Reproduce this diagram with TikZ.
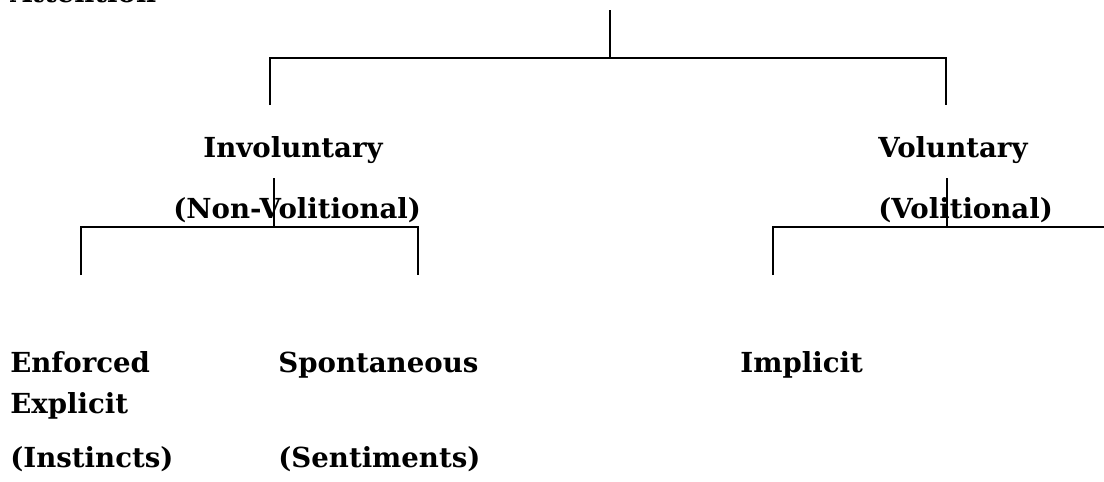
\documentclass[tikz,border=0pt]{standalone}
\usepackage{fontspec}
\setmainfont{DejaVu Serif}
\usepackage{tikz}
\tikzstyle{LabelTree}=[anchor=base west,inner sep=0pt,font=\fontsize{13.8}{17}\selectfont\bfseries]
\tikzstyle{EdgeTree}=[black,line width=0.75pt]

\begin{document}
\begin{tikzpicture}[x=0.5pt,y=-0.5pt]
        \clip(0,0)rectangle(1104,482);
        \node[LabelTree](att)at(10,2.5){Attention};
        \node[LabelTree](inv)at(203,157){Involuntary};
        \node[LabelTree](invb)at(173,218){(Non-Volitional)};
        \node[LabelTree](vol)at(878,157){Voluntary};
        \node[LabelTree](volb)at(878,218){(Volitional)};
        \node[LabelTree](enf)at(10,372){Enforced};
        \node[LabelTree](expl)at(10,413){Explicit};
        \node[LabelTree](inst)at(10,467){(Instincts)};
        \node[LabelTree](spon)at(278,372){Spontaneous};
        \node[LabelTree](sent)at(278,467){(Sentiments)};
        \node[LabelTree](impl)at(740,372){Implicit};
        % first split
        \coordinate(root)at(610,10);
        \coordinate(split)at(610,58);
        \coordinate(invTop)at(270,58);
        \coordinate(invEnd)at(270,105);
        \coordinate(volTop)at(946,58);
        \coordinate(volEnd)at(946,105);
        \draw[EdgeTree](root)--(split);
        \draw[EdgeTree](invEnd)--(invTop)--(volTop)--(volEnd);
        % involuntary split
        \coordinate(invStem)at(274,178);
        \coordinate(invSplit)at(274,227);
        \coordinate(enfTop)at(81,227);
        \coordinate(enfEnd)at(81,275);
        \coordinate(sponTop)at(418,227);
        \coordinate(sponEnd)at(418,275);
        \draw[EdgeTree](invStem)--(invSplit);
        \draw[EdgeTree](enfEnd)--(enfTop)--(sponTop)--(sponEnd);
        % voluntary split
        \coordinate(volStem)at(947,178);
        \coordinate(volSplit)at(947,227);
        \coordinate(implTop)at(773,227);
        \coordinate(implEnd)at(773,275);
        \coordinate(volRight)at(1110,227);
        \draw[EdgeTree](volStem)--(volSplit);
        \draw[EdgeTree](implEnd)--(implTop)--(volRight);
    \end{tikzpicture}
\end{document}
